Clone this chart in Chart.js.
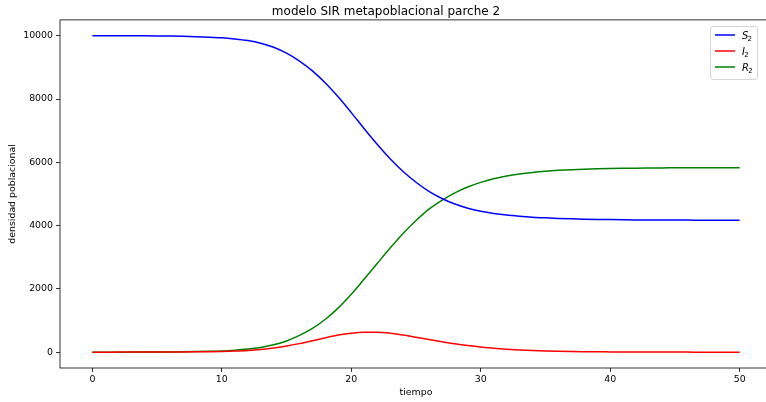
<!DOCTYPE html>
<html>
<head>
<meta charset="utf-8">
<script src="https://cdn.jsdelivr.net/npm/chart.js@4.4.1/dist/chart.umd.min.js"></script>
<style>
  html, body { margin: 0; padding: 0; background: #fff; overflow: hidden; }
  #contenedor { position: relative; width: 800px; height: 402px; }
</style>
</head>
<body>
<div id="contenedor"><canvas id="grafico"></canvas></div>
<script>
// tiempo (días) y densidades del parche 2
const tiempo = [0, 1, 2, 3, 4, 5, 6, 7, 8, 9, 10, 11, 12, 13, 14, 15, 16, 17, 18, 19, 20,
    21, 22, 23, 24, 25, 26, 27, 28, 29, 30, 31, 32, 33, 34, 35, 36, 37, 38, 39, 40,
    41, 42, 43, 44, 45, 46, 47, 48, 49, 50];

const susceptibles = [10000, 10000, 9999, 9998, 9996, 9993, 9988, 9980, 9968, 9950, 9935,
    9898, 9846, 9765, 9638, 9450, 9200, 8890, 8505, 8060, 7570,
    7060, 6568, 6110, 5710, 5370, 5080, 4855, 4680, 4550, 4455,
    4385, 4333, 4296, 4266, 4244, 4226, 4213, 4203, 4195, 4189,
    4184, 4180, 4177, 4175, 4174, 4173, 4172, 4171, 4170, 4170];

const infectados = [1, 1, 2, 2, 3, 4, 6, 8, 12, 17, 25,
    37, 55, 85, 130, 195, 270, 360, 455, 540, 600,
    630, 632, 600, 540, 470, 400, 330, 265, 210, 165,
    125, 95, 72, 54, 40, 30, 22, 16, 12, 9,
    7, 5, 4, 3, 2, 2, 1, 1, 1, 1];

const recuperados = [0, 0, 1, 2, 3, 5, 8, 12, 18, 27, 40,
    63, 97, 150, 232, 355, 530, 750, 1040, 1400, 1830,
    2310, 2800, 3290, 3750, 4160, 4520, 4800, 5035, 5220, 5365,
    5480, 5565, 5630, 5680, 5718, 5746, 5767, 5783, 5795, 5804,
    5811, 5816, 5820, 5823, 5825, 5827, 5828, 5829, 5830, 5830];

const nombres = ['S', 'I', 'R'];
const parche = '2';
const colores = ['#0000ff', '#ff0000', '#008000'];
const ticksX = [0, 10, 20, 30, 40, 50];
const ticksY = [0, 2000, 4000, 6000, 8000, 10000];

const fuente = '"DejaVu Sans", sans-serif';

const series = [susceptibles, infectados, recuperados];
const datasets = series.map((valores, i) => ({
    label: nombres[i] + '\u2082',
    data: valores.map((v, k) => ({ x: tiempo[k], y: v })),
    borderColor: colores[i],
    backgroundColor: colores[i],
    borderWidth: 1.5,
    pointRadius: 0,
    cubicInterpolationMode: 'monotone',
    fill: false
}));

// marco completo de los ejes, como los spines de matplotlib
const marco = {
    id: 'marco',
    afterDatasetsDraw(chart) {
        const { ctx, chartArea: a } = chart;
        ctx.save();
        ctx.strokeStyle = '#000';
        ctx.lineWidth = 0.8;
        ctx.strokeRect(a.left, a.top, a.right - a.left, a.bottom - a.top);
        ctx.restore();
    }
};

// leyenda dentro del área, esquina superior derecha
const leyenda = {
    id: 'leyenda',
    afterDraw(chart) {
        const ctx = chart.ctx;
        ctx.save();
        ctx.beginPath();
        ctx.roundRect(710.5, 26.5, 47, 53, 2.5);
        ctx.fillStyle = 'rgba(255,255,255,0.8)';
        ctx.fill();
        ctx.strokeStyle = '#d6d6d6';
        ctx.lineWidth = 1;
        ctx.stroke();
        chart.data.datasets.forEach((ds, i) => {
            const y = 35 + i * 16;
            ctx.strokeStyle = ds.borderColor;
            ctx.lineWidth = 1.5;
            ctx.beginPath();
            ctx.moveTo(715, y);
            ctx.lineTo(735, y);
            ctx.stroke();
            ctx.fillStyle = '#000';
            ctx.textBaseline = 'alphabetic';
            ctx.font = 'italic 10px ' + fuente;
            ctx.fillText(nombres[i], 742, y + 3.5);
            const ancho = ctx.measureText(nombres[i]).width;
            ctx.font = '7px ' + fuente;
            ctx.fillText(parche, 742 + ancho - 0.8, y + 6);
        });
        ctx.restore();
    }
};

new Chart(document.getElementById('grafico'), {
    type: 'line',
    data: { datasets: datasets },
    plugins: [marco, leyenda],
    options: {
        responsive: true,
        maintainAspectRatio: false,
        animation: false,
        layout: { padding: { left: 0, right: 28, top: 0, bottom: 0 } },
        plugins: {
            legend: { display: false },
            tooltip: { enabled: false },
            title: {
                display: true,
                text: 'modelo SIR metapoblacional parche 2',
                color: '#000',
                font: { family: fuente, size: 12, weight: 'normal' },
                padding: { top: 5, bottom: 0.5 }
            }
        },
        scales: {
            x: {
                type: 'linear',
                min: -2.5,
                max: 52.5,
                afterBuildTicks: s => { s.ticks = ticksX.map(v => ({ value: v })); },
                afterFit: s => { s.height = 34; },
                grid: { drawOnChartArea: false, drawTicks: true, tickLength: 4, color: '#000', lineWidth: 0.8 },
                border: { display: false },
                ticks: {
                    color: '#000', padding: 2, maxRotation: 0,
                    font: { family: fuente, size: 9.4 },
                    callback: v => String(v)
                },
                title: {
                    display: true,
                    text: 'tiempo',
                    color: '#000',
                    font: { family: fuente, size: 9.4 },
                    padding: { top: 0, bottom: 4 }
                }
            },
            y: {
                min: -500,
                max: 10500,
                afterBuildTicks: s => { s.ticks = ticksY.map(v => ({ value: v })); },
                afterFit: s => { s.width = 60; },
                grid: { drawOnChartArea: false, drawTicks: true, tickLength: 4, color: '#000', lineWidth: 0.8 },
                border: { display: false },
                ticks: {
                    color: '#000', padding: 3,
                    font: { family: fuente, size: 9.4 },
                    callback: v => String(v)
                },
                title: {
                    display: true,
                    text: 'densidad poblacional',
                    color: '#000',
                    font: { family: fuente, size: 9.4 },
                    padding: { top: 7, bottom: 0 }
                }
            }
        }
    }
});
</script>
</body>
</html>
